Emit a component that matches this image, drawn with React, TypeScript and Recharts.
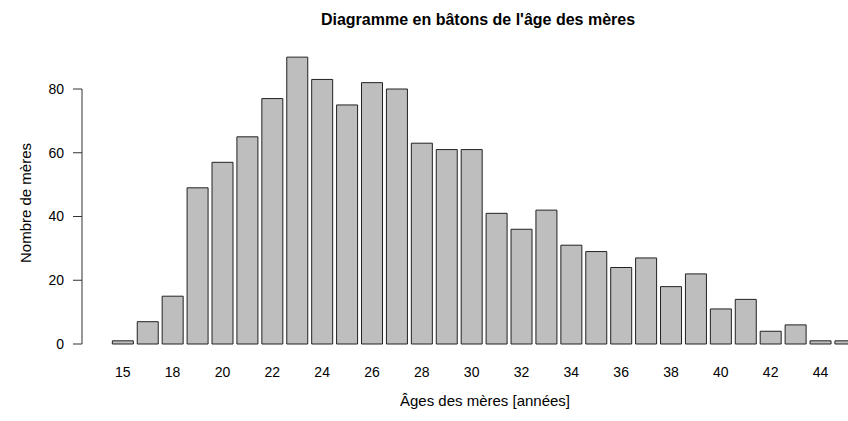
import React from 'react';
import { BarChart, Bar, XAxis, YAxis, ReferenceLine } from 'recharts';

// ages present in the sample (16 is absent) and the number of mothers for each
const AGES = [15, 17, 18, 19, 20, 21, 22, 23, 24, 25, 26, 27, 28, 29, 30, 31, 32, 33, 34, 35, 36, 37, 38, 39, 40, 41, 42, 43, 44, 45];
const COUNTS = [1, 7, 15, 49, 57, 65, 77, 90, 83, 75, 82, 80, 63, 61, 61, 41, 36, 42, 31, 29, 24, 27, 18, 22, 11, 14, 4, 6, 1, 1];
// labels that R kept under the bars (the others overlapped)
const SHOWN_AGES = [15, 18, 20, 22, 24, 26, 28, 30, 32, 34, 36, 38, 40, 42, 44];
const Y_TICKS = [0, 20, 40, 60, 80];

const TITLE = "Diagramme en bâtons de l'âge des mères";
const X_LABEL = 'Âges des mères [années]';
const Y_LABEL = 'Nombre de mères';

const FONT = '"Liberation Sans", Arial, Helvetica, sans-serif';
const W = 848;
const H = 421;
// x domain in bar-index units; the right edge cuts the last bar like the original
const X_MIN = -1.637;
const X_MAX = 29.104;

const data = AGES.map((age, i) => ({ pos: i, age, count: COUNTS[i] }));
const xTicks = SHOWN_AGES.map(a => AGES.indexOf(a));

export default function App() {
  const tickStyle = { fill: '#000', fontSize: 14, fontFamily: FONT };
  return (
    <div style={{ position: 'absolute', left: 0, top: 0, width: W, height: H, overflow: 'hidden', background: '#fff' }}>
      <BarChart width={W} height={H} data={data} margin={{ top: 38, right: 0, bottom: 0, left: 0 }}>
        <XAxis
          dataKey="pos"
          type="number"
          domain={[X_MIN, X_MAX]}
          ticks={xTicks}
          interval={0}
          tickFormatter={(i: number) => String(AGES[i])}
          axisLine={false}
          tickLine={false}
          tickSize={0}
          tickMargin={23}
          height={77}
          tick={tickStyle}
        />
        <YAxis
          type="number"
          domain={[0, 96]}
          ticks={Y_TICKS}
          width={82}
          axisLine={false}
          tickLine={{ stroke: '#333' }}
          tickSize={9}
          tickMargin={9}
          tick={tickStyle}
        />
        <ReferenceLine
          segment={[{ x: X_MIN, y: 0 }, { x: X_MIN, y: 80 }]}
          stroke="#333"
          ifOverflow="visible"
        />
        <Bar dataKey="count" fill="#bebebe" stroke="#222" strokeWidth={1} barSize={21} isAnimationActive={false} />
      </BarChart>
      <svg width={W} height={H} style={{ position: 'absolute', left: 0, top: 0, pointerEvents: 'none' }}>
        <text x={478} y={25} textAnchor="middle" fontFamily={FONT} fontSize={16} fontWeight="bold" fill="#000">
          {TITLE}
        </text>
        <text x={485} y={406} textAnchor="middle" fontFamily={FONT} fontSize={15} fill="#000">
          {X_LABEL}
        </text>
        <text transform="translate(31,203) rotate(-90)" textAnchor="middle" fontFamily={FONT} fontSize={15} fill="#000">
          {Y_LABEL}
        </text>
      </svg>
    </div>
  );
}
